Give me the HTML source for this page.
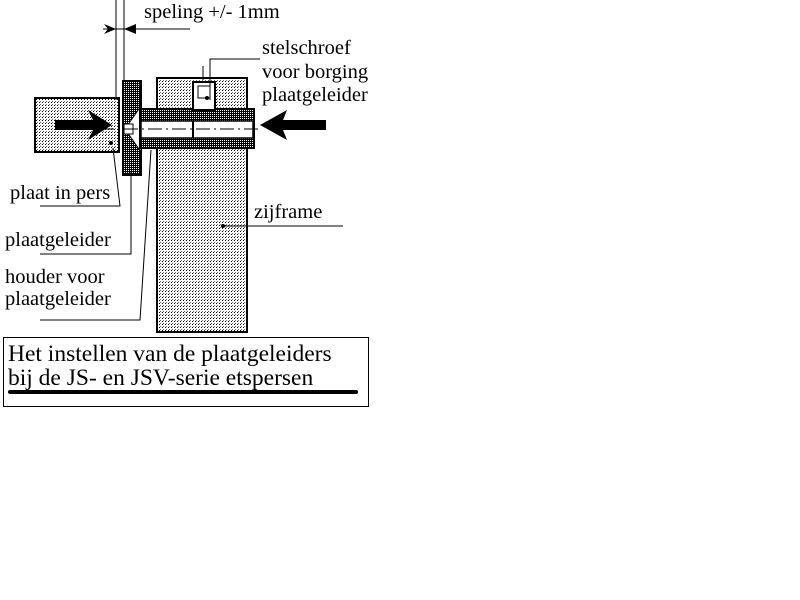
<!DOCTYPE html>
<html><head><style>body{margin:0;background:#fff}svg{display:block}text{font-family:"Liberation Serif",serif;fill:#000}</style></head><body>
<svg width="800" height="600" viewBox="0 0 800 600">
<defs>
<pattern id="lt" width="3" height="3" patternUnits="userSpaceOnUse"><rect width="3" height="3" fill="#fff"/><rect width="1" height="1" fill="#000"/><rect x="1" y="2" width="1" height="1" fill="#666"/></pattern>
<pattern id="dk" width="2" height="2" patternUnits="userSpaceOnUse"><rect width="2" height="2" fill="#000"/><rect width="1" height="1" fill="#fff"/></pattern>
</defs>
<rect x="157" y="78" width="90" height="254" fill="url(#lt)" stroke="#000" stroke-width="2"/>
<rect x="35" y="98" width="84" height="54" fill="url(#lt)" stroke="#000" stroke-width="2"/>
<rect x="123" y="81" width="18" height="94" fill="url(#dk)" stroke="#000" stroke-width="2"/>
<polygon points="141,106 125,129 141,152" fill="#fff" stroke="#000"/>
<rect x="124" y="124" width="9" height="10" fill="#fff" stroke="#000"/>
<rect x="140" y="109" width="114" height="39" fill="url(#dk)" stroke="#000" stroke-width="2"/>
<rect x="141" y="121" width="112" height="17" fill="#fff" stroke="#000" stroke-width="1.5"/>
<line x1="193" y1="121" x2="193" y2="138" stroke="#000" stroke-width="2"/>
<line x1="100" y1="129" x2="258" y2="129" stroke="#000" stroke-dasharray="14,4,2,4"/>
<rect x="193" y="82" width="22" height="28" fill="#fff" stroke="#000" stroke-width="2"/>
<rect x="198" y="86" width="12" height="12" fill="none" stroke="#000"/>
<circle cx="207" cy="98" r="2"/>
<polygon points="55,120 93,120 88,110 112,125 88,140 93,130 55,130" fill="#000"/>
<polygon points="326,120 283,120 287,110 260,125 287,140 283,130 326,130" fill="#000"/>
<line x1="116" y1="0" x2="116" y2="100" stroke="#000"/>
<line x1="124" y1="0" x2="124" y2="80" stroke="#000"/>
<line x1="103" y1="29" x2="190" y2="29" stroke="#000"/>
<polygon points="104,24 116,29 104,34 108,29" fill="#000"/>
<polygon points="136,24 124,29 136,34" fill="#000"/>
<text x="144" y="18" font-size="20.5">speling +/- 1mm</text>
<polyline points="260,59 210,59 210,100" fill="none" stroke="#000"/>
<line x1="203" y1="66" x2="203" y2="80" stroke="#000"/>
<text x="262" y="54" font-size="20.5">stelschroef</text>
<text x="262" y="78" font-size="20.5">voor borging</text>
<text x="262" y="101" font-size="20.5">plaatgeleider</text>
<circle cx="111" cy="143" r="2"/>
<polyline points="40,206 120,206 113,148" fill="none" stroke="#000"/>
<text x="10" y="199" font-size="20.5">plaat in pers</text>
<polyline points="40,254 131,254 131,172" fill="none" stroke="#000"/>
<text x="5" y="246" font-size="20.5">plaatgeleider</text>
<polyline points="40,320 140,320 151,150" fill="none" stroke="#000"/>
<text x="5" y="283" font-size="20.5">houder voor</text>
<text x="5" y="305" font-size="20.5">plaatgeleider</text>
<circle cx="223" cy="226" r="2"/>
<line x1="223" y1="226" x2="343" y2="226" stroke="#000"/>
<text x="254" y="218" font-size="20.5">zijframe</text>
<rect x="3.5" y="337.5" width="365" height="69" fill="#fff" stroke="#000"/>
<text x="8" y="361" font-size="23.5">Het instellen van de plaatgeleiders</text>
<text x="8" y="385" font-size="23.5">bij de JS- en JSV-serie etspersen</text>
<line x1="10" y1="392" x2="356" y2="392" stroke="#000" stroke-width="4" stroke-linecap="round"/>
</svg>
</body></html>
